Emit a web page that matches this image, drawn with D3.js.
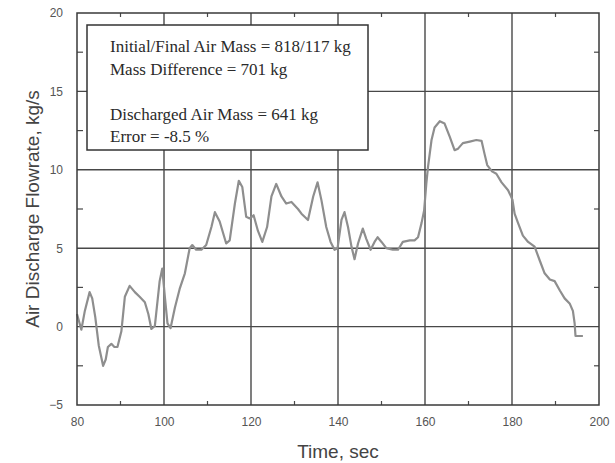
<!DOCTYPE html>
<html>
<head>
<meta charset="utf-8">
<script src="https://cdn.jsdelivr.net/npm/d3@7"></script>
<style>
  body { margin: 0; background: #fff; }
</style>
</head>
<body>
<svg id="flowGraph"></svg>
<script>
// time (sec) and air discharge flowrate (kg/s)
var times = [80.0, 81.0, 81.8, 82.9, 83.5, 84.2, 85.0, 86.0, 86.6, 87.1, 87.9, 88.6, 89.3, 90.2, 91.0, 92.1, 93.3, 94.4, 95.6, 96.4,
   97.1, 97.9, 99.0, 99.6, 100.2, 100.8, 101.5, 102.5, 103.6, 104.8, 105.9, 106.5, 107.4, 108.6, 109.7, 110.9, 111.7, 112.8, 114.3, 115.1,
   116.3, 117.2, 118.0, 118.9, 119.7, 120.6, 121.6, 122.6, 123.7, 124.7, 125.8, 127.0, 128.1, 129.3, 130.8, 131.6, 133.1, 134.3, 135.3, 136.2,
   137.3, 138.3, 139.2, 139.9, 140.8, 141.5, 142.3, 143.1, 143.8, 144.6, 145.7, 146.5, 147.5, 148.4, 149.1, 150.0, 151.1, 152.6, 153.8, 154.9,
   156.5, 157.6, 158.4, 159.2, 159.8, 160.3, 160.7, 161.5, 162.2, 163.4, 164.5, 165.7, 166.8, 167.6, 168.7, 170.3, 171.8, 173.0, 173.7, 174.3,
   175.4, 176.4, 177.6, 179.1, 180.1, 180.6, 181.4, 182.5, 183.7, 185.2, 186.4, 187.5, 188.7, 189.8, 191.0, 192.1, 193.3, 194.0, 194.4, 194.6, 196.3];
var flowrate = [0.8, -0.2, 1.0, 2.2, 1.8, 0.6, -1.2, -2.5, -2.1, -1.3, -1.1, -1.3, -1.3, -0.3, 1.9, 2.6, 2.2, 1.9, 1.55, 0.8,
   -0.15, 0.05, 2.9, 3.7, 1.9, 0.2, -0.1, 1.2, 2.4, 3.4, 5.0, 5.2, 4.9, 4.9, 5.2, 6.35, 7.3, 6.7, 5.3, 5.5,
   7.85, 9.3, 8.9, 7.0, 6.9, 7.1, 6.1, 5.4, 6.35, 8.3, 9.1, 8.3, 7.85, 7.95, 7.5, 7.2, 6.8, 8.3, 9.2, 8.05,
   6.35, 5.4, 4.9, 5.0, 6.8, 7.3, 6.35, 5.1, 4.3, 5.3, 6.25, 5.6, 4.9, 5.4, 5.7, 5.4, 5.0, 4.9, 4.9, 5.4,
   5.5, 5.5, 5.7, 6.6, 7.4, 9.1, 10.2, 11.9, 12.7, 13.1, 12.95, 12.1, 11.25, 11.35, 11.7, 11.8, 11.9, 11.85, 11.0, 10.3,
   9.9, 9.75, 9.2, 8.7, 8.1, 7.2, 6.6, 5.8, 5.4, 5.1, 4.2, 3.4, 3.0, 2.9, 2.3, 1.8, 1.45, 1.0, 0.2, -0.6, -0.6];

var xTicks = [80, 100, 120, 140, 160, 180, 200];
var yTicks = [-5, 0, 5, 10, 15, 20];
var xMinorTicks = [90, 110, 130, 150, 170, 190];
var yMinorTicks = [-2.5, 2.5, 7.5, 12.5, 17.5];

var notes = [
   "Initial/Final Air Mass = 818/117 kg",
   "Mass Difference = 701 kg",
   "",
   "Discharged Air Mass = 641 kg",
   "Error = -8.5 %"
];

var data = times.map(function (t, i) {
   return { time: t, value: flowrate[i] };
});

var margin = { top: 13, right: 16, bottom: 58, left: 77 };
var totalWidth = 615,
   totalHeight = 463;
var width = totalWidth - margin.left - margin.right,
   height = totalHeight - margin.top - margin.bottom;

var svg = d3
   .select("svg#flowGraph")
   .attr("width", totalWidth)
   .attr("height", totalHeight);

var g = svg
   .append("g")
   .attr("transform", `translate(${margin.left}, ${margin.top})`);

var x = d3.scaleLinear().domain([80, 200]).range([0, width]);
var y = d3.scaleLinear().domain([-5, 20]).range([height, 0]);

var gridColor = "#484848";

// grid lines at major ticks
g.append("g")
   .selectAll("line")
   .data(xTicks.slice(1, -1))
   .join("line")
   .attr("x1", function (d) { return x(d); })
   .attr("x2", function (d) { return x(d); })
   .attr("y1", 0)
   .attr("y2", height)
   .attr("stroke", gridColor)
   .attr("stroke-width", 1.4);

g.append("g")
   .selectAll("line")
   .data(yTicks.slice(1, -1))
   .join("line")
   .attr("x1", 0)
   .attr("x2", width)
   .attr("y1", function (d) { return y(d); })
   .attr("y2", function (d) { return y(d); })
   .attr("stroke", gridColor)
   .attr("stroke-width", 1.4);

// minor ticks on all four sides
var minor = g.append("g").attr("stroke", gridColor).attr("stroke-width", 1.2);
xMinorTicks.forEach(function (d) {
   minor.append("line").attr("x1", x(d)).attr("x2", x(d)).attr("y1", height).attr("y2", height - 4);
   minor.append("line").attr("x1", x(d)).attr("x2", x(d)).attr("y1", 0).attr("y2", 4);
});
yMinorTicks.forEach(function (d) {
   minor.append("line").attr("x1", 0).attr("x2", 6).attr("y1", y(d)).attr("y2", y(d));
   minor.append("line").attr("x1", width).attr("x2", width - 5).attr("y1", y(d)).attr("y2", y(d));
});

// the flow line
g.append("path")
   .datum(data)
   .attr("fill", "none")
   .attr("stroke", "#8e8e8e")
   .attr("stroke-width", 2.2)
   .attr("stroke-linejoin", "round")
   .attr(
      "d",
      d3
         .line()
         .x(function (d) { return x(d.time); })
         .y(function (d) { return y(d.value); })
   );

// frame
g.append("rect")
   .attr("x", 0)
   .attr("y", 0)
   .attr("width", width)
   .attr("height", height)
   .attr("fill", "none")
   .attr("stroke", "#3a3a3a")
   .attr("stroke-width", 1.5);

// axes (labels only, tick lines hidden)
var xAxis = g
   .append("g")
   .attr("transform", "translate(0," + height + ")")
   .call(d3.axisBottom(x).tickValues(xTicks).tickSize(0).tickPadding(12));
var yAxis = g
   .append("g")
   .call(d3.axisLeft(y).tickValues(yTicks).tickSize(0).tickPadding(14));

[xAxis, yAxis].forEach(function (a) {
   a.select(".domain").remove();
   a.selectAll("text")
      .attr("fill", "#555")
      .style("font-family", "Arial, 'Liberation Sans', sans-serif")
      .style("font-size", "12px");
});

// axis titles
svg.append("text")
   .attr("x", margin.left + width / 2)
   .attr("y", 458)
   .attr("text-anchor", "middle")
   .attr("fill", "#444")
   .style("font-family", "Arial, 'Liberation Sans', sans-serif")
   .style("font-size", "19px")
   .text("Time, sec");

svg.append("text")
   .attr("transform", "translate(39," + (margin.top + height / 2) + ") rotate(-90)")
   .attr("text-anchor", "middle")
   .attr("fill", "#444")
   .style("font-family", "Arial, 'Liberation Sans', sans-serif")
   .style("font-size", "19px")
   .text("Air Discharge Flowrate, kg/s");

// annotation box
var box = svg.append("g").attr("transform", "translate(87,25)");
box.append("rect")
   .attr("width", 281)
   .attr("height", 125)
   .attr("fill", "#fff")
   .attr("stroke", "#333")
   .attr("stroke-width", 1.5);

box.selectAll("text")
   .data(notes)
   .join("text")
   .attr("x", 23)
   .attr("y", function (d, i) { return 27 + i * 22.5; })
   .attr("fill", "#2a2a2a")
   .style("font-family", "'Liberation Serif', 'Times New Roman', serif")
   .style("font-size", "17px")
   .text(function (d) { return d; });
</script>
</body>
</html>
